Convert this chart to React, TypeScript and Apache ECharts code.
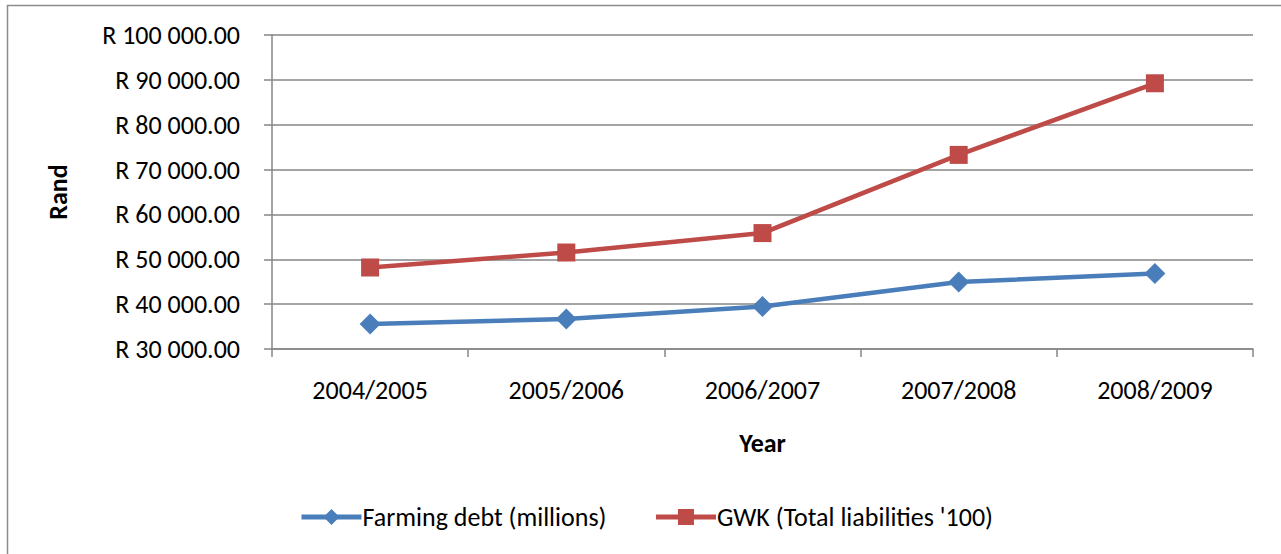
import React, { useEffect, useRef } from "react";
import * as echarts from "echarts";

const categories = ["2004/2005", "2005/2006", "2006/2007", "2007/2008", "2008/2009"];
const farmingDebt = [35570, 36680, 39490, 44920, 46840];
const gwkLiabilities = [48170, 51510, 55840, 73270, 89240];
const seriesNames = ["Farming debt (millions)", "GWK (Total liabilities '100)"];

const FONT = "Carlito, Lato, sans-serif";
const FS = 26;

function formatRand(v: number): string {
  const fixed = v.toFixed(2);
  const [intPart, dec] = fixed.split(".");
  const withSpaces = intPart.replace(/\B(?=(\d{3})+(?!\d))/g, " ");
  return "R " + withSpaces + "." + dec;
}

export default function App() {
  const ref = useRef<HTMLDivElement>(null);
  useEffect(() => {
    if (!ref.current) return;
    const chart = echarts.init(ref.current, null, { renderer: "svg" });
    chart.setOption({
      animation: false,
      backgroundColor: "#ffffff",
      textStyle: { fontFamily: FONT },
      graphic: [
        {
          type: "rect",
          shape: { x: 7.5, y: 5.5, width: 1290, height: 560 },
          style: { fill: "none", stroke: "#8c8c8c", lineWidth: 1.5 },
          silent: true,
        },
      ],
      grid: { left: 272, right: 28, top: 35, bottom: 205, containLabel: false },
      legend: {
        bottom: 19,
        left: 294,
        itemGap: 47,
        itemWidth: 60,
        itemHeight: 20,
        lineStyle: { width: 5 },
        textStyle: { fontFamily: FONT, fontSize: FS, color: "#000", padding: [0, 0, 0, -4] },
        data: seriesNames,
      },
      xAxis: {
        type: "category",
        data: categories,
        boundaryGap: true,
        name: "Year",
        nameLocation: "middle",
        nameGap: 81,
        nameTextStyle: { fontFamily: FONT, fontSize: FS, fontWeight: "bold", color: "#000" },
        axisLine: { lineStyle: { color: "#868686", width: 1.5 } },
        axisTick: { show: true, length: 8, alignWithLabel: false, lineStyle: { color: "#868686", width: 1.5 } },
        axisLabel: { fontFamily: FONT, fontSize: FS, color: "#000", margin: 28 },
      },
      yAxis: {
        type: "value",
        min: 30000,
        max: 100000,
        interval: 10000,
        name: "Rand",
        nameLocation: "middle",
        nameGap: 201,
        nameRotate: 90,
        nameTextStyle: { fontFamily: FONT, fontSize: FS, fontWeight: "bold", color: "#000" },
        axisLine: { show: true, lineStyle: { color: "#868686", width: 1.5 } },
        axisTick: { show: true, length: 8, lineStyle: { color: "#868686", width: 1.5 } },
        splitLine: { show: true, lineStyle: { color: "#868686", width: 1.5 } },
        axisLabel: {
          fontFamily: FONT,
          fontSize: FS,
          color: "#000",
          margin: 32,
          formatter: (v: number) => formatRand(v),
        },
      },
      series: [
        {
          name: seriesNames[0],
          type: "line",
          data: farmingDebt,
          symbol: "diamond",
          symbolSize: 21,
          showAllSymbol: true,
          lineStyle: { color: "#4a7ebb", width: 4.5 },
          itemStyle: { color: "#4a7ebb" },
        },
        {
          name: seriesNames[1],
          type: "line",
          data: gwkLiabilities,
          symbol: "rect",
          symbolSize: 18,
          showAllSymbol: true,
          lineStyle: { color: "#be4b48", width: 4.5 },
          itemStyle: { color: "#be4b48" },
        },
      ],
    });
    return () => chart.dispose();
  }, []);
  return (
    <div
      ref={ref}
      style={{ position: "fixed", left: 0, top: 0, width: 1281, height: 554 }}
    />
  );
}
